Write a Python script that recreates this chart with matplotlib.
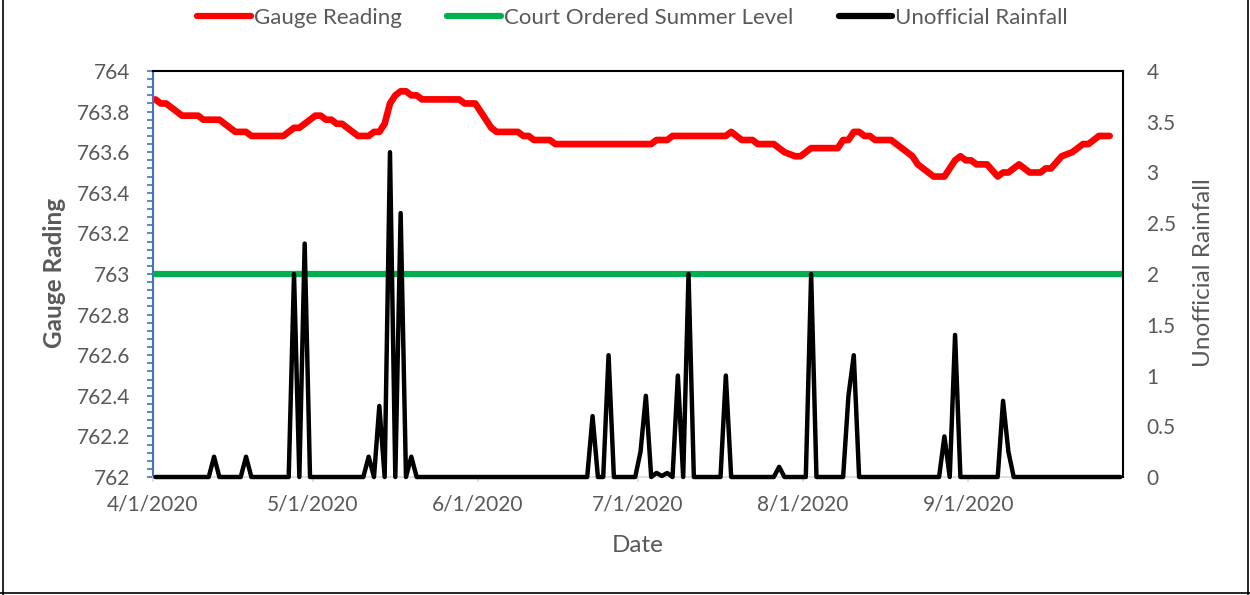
import pandas as pd
import matplotlib
matplotlib.use('Agg')
import matplotlib.pyplot as plt
import matplotlib.dates as mdates
from matplotlib.ticker import MultipleLocator, FuncFormatter
from matplotlib.lines import Line2D

plt.rcParams['font.family'] = ['Lato', 'DejaVu Sans']

start_date = '2020-04-01'
end_date = '2020-09-30'

# daily lake gauge reading (ft), starting 4/1/2020
gauge = [
    763.86, 763.84, 763.84, 763.82, 763.80, 763.78, 763.78, 763.78, 763.78, 763.76,
    763.76, 763.76, 763.76, 763.74, 763.72, 763.70, 763.70, 763.70, 763.68, 763.68,
    763.68, 763.68, 763.68, 763.68, 763.68, 763.70, 763.72, 763.72, 763.74, 763.76,
    763.78, 763.78, 763.76, 763.76, 763.74, 763.74, 763.72, 763.70, 763.68, 763.68,
    763.68, 763.70, 763.70, 763.74, 763.84, 763.88, 763.90, 763.90, 763.88, 763.88,
    763.86, 763.86, 763.86, 763.86, 763.86, 763.86, 763.86, 763.86, 763.84, 763.84,
    763.84, 763.80, 763.76, 763.72, 763.70, 763.70, 763.70, 763.70, 763.70, 763.68,
    763.68, 763.66, 763.66, 763.66, 763.66, 763.64, 763.64, 763.64, 763.64, 763.64,
    763.64, 763.64, 763.64, 763.64, 763.64, 763.64, 763.64, 763.64, 763.64, 763.64,
    763.64, 763.64, 763.64, 763.64, 763.66, 763.66, 763.66, 763.68, 763.68, 763.68,
    763.68, 763.68, 763.68, 763.68, 763.68, 763.68, 763.68, 763.68, 763.70, 763.68,
    763.66, 763.66, 763.66, 763.64, 763.64, 763.64, 763.64, 763.62, 763.60, 763.59,
    763.58, 763.58, 763.60, 763.62, 763.62, 763.62, 763.62, 763.62, 763.62, 763.66,
    763.66, 763.70, 763.70, 763.68, 763.68, 763.66, 763.66, 763.66, 763.66, 763.64,
    763.62, 763.60, 763.58, 763.54, 763.52, 763.50, 763.48, 763.48, 763.48, 763.52,
    763.56, 763.58, 763.56, 763.56, 763.54, 763.54, 763.54, 763.51, 763.48, 763.50,
    763.50, 763.52, 763.54, 763.52, 763.50, 763.50, 763.50, 763.52, 763.52, 763.55,
    763.58, 763.59, 763.60, 763.62, 763.64, 763.64, 763.66, 763.68, 763.68, 763.68,
]

# daily unofficial rainfall (in), starting 4/1/2020
rain = [
    0, 0, 0, 0, 0, 0, 0, 0, 0, 0,
    0, 0.2, 0, 0, 0, 0, 0, 0.2, 0, 0,
    0, 0, 0, 0, 0, 0, 2.0, 0, 2.3, 0,
    0, 0, 0, 0, 0, 0, 0, 0, 0, 0,
    0.2, 0, 0.7, 0, 3.2, 0, 2.6, 0, 0.2, 0,
    0, 0, 0, 0, 0, 0, 0, 0, 0, 0,
    0, 0, 0, 0, 0, 0, 0, 0, 0, 0,
    0, 0, 0, 0, 0, 0, 0, 0, 0, 0,
    0, 0, 0.6, 0, 0, 1.2, 0, 0, 0, 0,
    0, 0.25, 0.8, 0, 0.04, 0.01, 0.04, 0, 1.0, 0,
    2.0, 0, 0, 0, 0, 0, 0, 1.0, 0, 0,
    0, 0, 0, 0, 0, 0, 0, 0.1, 0, 0,
    0, 0, 0, 2.0, 0, 0, 0, 0, 0, 0,
    0.8, 1.2, 0, 0, 0, 0, 0, 0, 0, 0,
    0, 0, 0, 0, 0, 0, 0, 0, 0.4, 0,
    1.4, 0, 0, 0, 0, 0, 0, 0, 0, 0.75,
    0.25, 0, 0, 0, 0, 0, 0, 0, 0, 0,
    0, 0, 0, 0, 0, 0, 0, 0, 0, 0,
    0, 0,
]

court_level = 763.0

gray = '#595959'
fs = 15        # tick labels
fs_leg = 16    # legend
fs_title = 17.5  # axis titles

# Excel date axis puts each day's point in the middle of the day
gauge_dates = pd.date_range(start_date, periods=len(gauge), freq='D') + pd.Timedelta(hours=12)
rain_dates = pd.date_range(start_date, periods=len(rain), freq='D') + pd.Timedelta(hours=12)

fig = plt.figure(figsize=(12.5, 5.95), dpi=100)
ax = fig.add_axes([0.1222, 0.1983, 0.7762, 0.6824])
ax2 = ax.twinx()

ax.plot(gauge_dates, gauge, color='#FF0000', lw=4.8,
        solid_capstyle='round', solid_joinstyle='round')
ax.axhline(court_level, color='#00B050', lw=4.5)
ax2.plot(rain_dates, rain, color='black', lw=3.2, clip_on=False,
         solid_capstyle='round', solid_joinstyle='round')

ax.set_xlim(pd.Timestamp(start_date), pd.Timestamp(end_date))
ax.set_ylim(762, 764)
ax2.set_ylim(0, 4)

# x axis
ax.xaxis.set_major_locator(mdates.MonthLocator())
def date_fmt(v, pos):
    d = mdates.num2date(v)
    return f'{d.month}/{d.day}/{d.year}'
ax.xaxis.set_major_formatter(FuncFormatter(date_fmt))
ax.tick_params(axis='x', colors='#D9D9D9', labelcolor=gray, labelsize=fs,
               length=3.6, width=1.2, pad=9)

# left axis
ax.yaxis.set_major_locator(MultipleLocator(0.2))
ax.yaxis.set_minor_locator(MultipleLocator(0.04))
ax.yaxis.set_major_formatter(FuncFormatter(lambda v, p: f'{v:g}'))
ax.tick_params(axis='y', which='both', colors='#4472C4', labelcolor=gray,
               labelsize=fs, length=4.3, width=1.2, pad=12)

# right axis
ax2.yaxis.set_major_locator(MultipleLocator(0.5))
ax2.yaxis.set_major_formatter(FuncFormatter(lambda v, p: f'{v:g}'))
ax2.tick_params(axis='y', length=0, labelcolor=gray, labelsize=fs, pad=17)

for s in ['left', 'bottom', 'top']:
    ax2.spines[s].set_visible(False)
ax.spines['right'].set_visible(False)
ax.spines['left'].set_color('#4472C4')
ax.spines['left'].set_linewidth(1.5)
ax.spines['bottom'].set_color('#D9D9D9')
ax.spines['bottom'].set_linewidth(1.2)
ax.spines['top'].set_color('black')
ax.spines['top'].set_linewidth(1.5)
ax2.spines['right'].set_color('black')
ax2.spines['right'].set_linewidth(1.5)

# labels
fig.text(55 / 1250, 1 - 273 / 595, 'Gauge Rading', rotation=90, ha='center',
         va='center', fontsize=fs_title, fontweight='bold', color=gray)
fig.text(1203 / 1250, 1 - 273 / 595, 'Unofficial Rainfall', rotation=90,
         ha='center', va='center', fontsize=fs_title, color=gray)
fig.text(638 / 1250, 1 - 546 / 595, 'Date', ha='center', va='center',
         fontsize=fs_title, color=gray)

# legend
handles = [
    Line2D([], [], color='#FF0000', lw=4.5, solid_capstyle='round'),
    Line2D([], [], color='#00B050', lw=4.5, solid_capstyle='round'),
    Line2D([], [], color='black', lw=4.5, solid_capstyle='round'),
]
labels = ['Gauge Reading', 'Court Ordered Summer Level', 'Unofficial Rainfall']
leg = fig.legend(handles, labels, loc='center', bbox_to_anchor=(0.506, 1 - 18 / 595),
                 ncol=3, frameon=False, fontsize=fs_leg, handlelength=2.4,
                 handletextpad=0.14, columnspacing=2.05)
for t in leg.get_texts():
    t.set_color(gray)

# outer chart border
for xs, ys in [([0.002, 0.002], [0, 1]), ([0.998, 0.998], [0, 1]), ([0, 1], [0.003, 0.003])]:
    fig.add_artist(Line2D(xs, ys, transform=fig.transFigure, color='black', lw=1.2))

fig.savefig('out.png', dpi=100)
